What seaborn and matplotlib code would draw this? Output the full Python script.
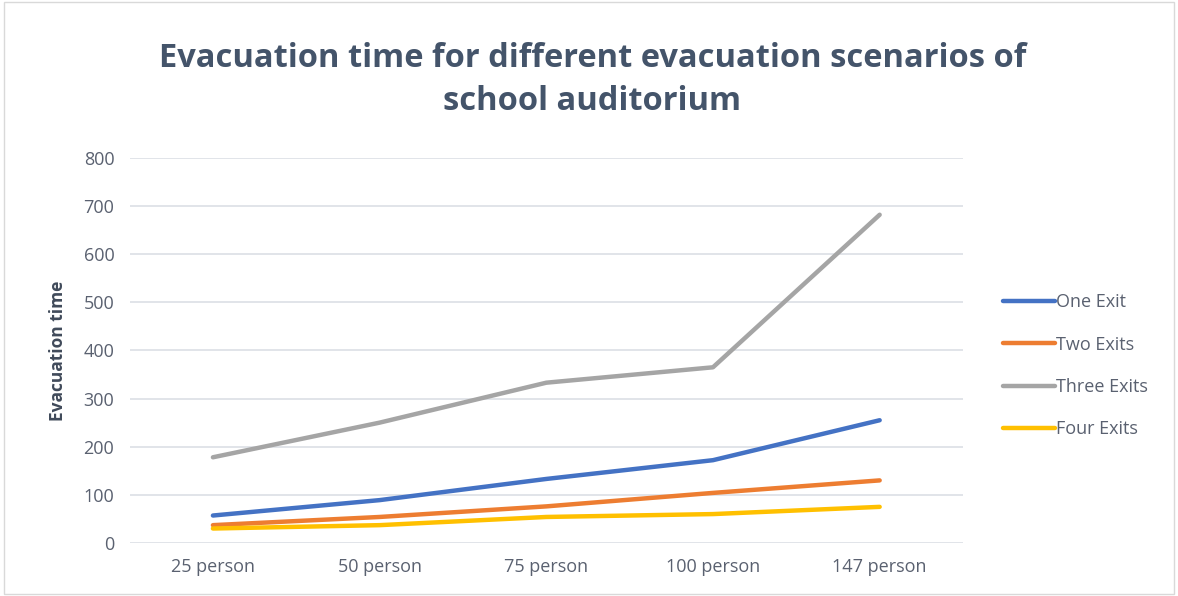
import matplotlib
matplotlib.use("Agg")
import matplotlib.pyplot as plt
import seaborn as sns
import pandas as pd

categories = ["25 person", "50 person", "75 person", "100 person", "147 person"]
one_exit = [57, 89, 133, 172, 255]
two_exits = [37, 54, 76, 104, 130]
three_exits = [178, 250, 333, 365, 682]
four_exits = [30, 37, 54, 60, 75]
series_names = ["One Exit", "Two Exits", "Three Exits", "Four Exits"]
colors = ["#4472C4", "#ED7D31", "#A5A5A5", "#FFC000"]
y_ticks = [0, 100, 200, 300, 400, 500, 600, 700, 800]

df = pd.DataFrame({
    "Scenario": categories * 4,
    "Series": sum([[n] * len(categories) for n in series_names], []),
    "Time": one_exit + two_exits + three_exits + four_exits,
})
df["pos"] = df["Scenario"].map({c: i for i, c in enumerate(categories)})

sns.set_theme(style="white")
plt.rcParams["font.family"] = ["Open Sans", "DejaVu Sans"]

fig = plt.figure(figsize=(11.78, 5.96), dpi=100)
ax = fig.add_axes([0.110, 0.089, 0.7075, 0.646])

sns.lineplot(data=df, x="pos", y="Time", hue="Series", palette=colors,
             hue_order=series_names, linewidth=3.2, ax=ax, legend=True)

ax.set_xlim(-0.5, len(categories) - 0.5)
ax.set_ylim(0, 800)
ax.set_xticks(range(len(categories)))
ax.set_xticklabels(categories)
ax.set_yticks(y_ticks)
ax.tick_params(axis="both", labelsize=13, colors="#5A6170", length=0, pad=11)
ax.yaxis.grid(True, color="#D9DDE3", linewidth=1.1)
ax.set_axisbelow(True)
for s in ax.spines.values():
    s.set_visible(False)
ax.set_xlabel("")
ax.set_ylabel("Evacuation time", fontsize=12.5, fontweight="bold", color="#404A5A", labelpad=12)

leg = ax.legend(loc="center left", bbox_to_anchor=(1.028, 0.46), frameon=False,
                fontsize=13, handlelength=2.9, handletextpad=0.05, labelspacing=1.35)
for t in leg.get_texts():
    t.set_color("#5A6170")

fig.text(0.503, 0.866, "Evacuation time for different evacuation scenarios of\nschool auditorium",
         ha="center", va="center", fontsize=23.5, fontweight="bold", color="#44546A",
         linespacing=1.4)

border = plt.Rectangle((0.003, 0.003), 0.994, 0.994, transform=fig.transFigure,
                       fill=False, edgecolor="#D9D9D9", linewidth=1)
fig.patches.append(border)

fig.savefig("out.png", dpi=100, facecolor="white")
